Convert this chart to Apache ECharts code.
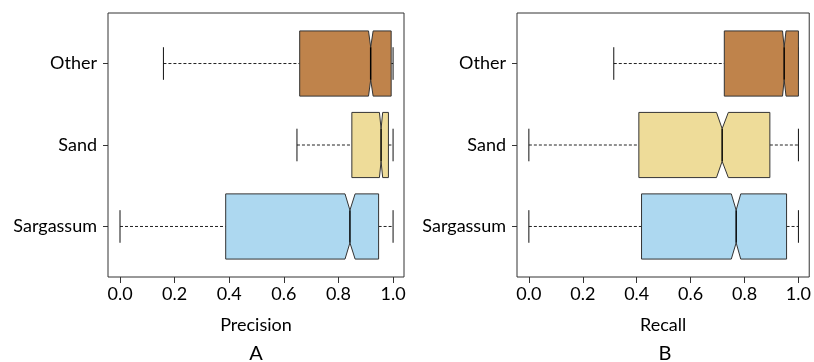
<!DOCTYPE html>
<html>
<head>
<meta charset="utf-8">
<script src="https://cdn.jsdelivr.net/npm/echarts@6/dist/echarts.min.js"></script>
<style>html,body{margin:0;padding:0;background:#fff}#c{width:814px;height:362px}</style>
</head>
<body>
<div id="c"></div>
<script>
// Categories bottom -> top
const categories = ['Sargassum', 'Sand', 'Other'];
// [lower whisker, Q1, median, Q3, upper whisker]
const precisionStats = [
  [0.000, 0.387, 0.842, 0.947, 1.000],
  [0.648, 0.849, 0.956, 0.983, 1.000],
  [0.159, 0.658, 0.918, 0.993, 1.000]
];
const precisionNotch = [[0.824, 0.861], [0.950, 0.962], [0.910, 0.927]];
const recallStats = [
  [0.000, 0.418, 0.769, 0.956, 1.000],
  [0.000, 0.408, 0.717, 0.894, 1.000],
  [0.315, 0.725, 0.947, 1.000, 1.000]
];
const recallNotch = [[0.751, 0.786], [0.696, 0.740], [0.941, 0.954]];
const boxColors = ['#ADD8F0', '#EEDC99', '#BF834B'];
const xTicks = [0, 0.2, 0.4, 0.6, 0.8, 1.0];
const yTicks = [1, 2, 3];
const panelNames = ['Precision', 'Recall'];
const panelLetters = ['A', 'B'];

const FONT = 'Lato';

function buildData(stats, notch) {
  return stats.map((s, i) => ({
    value: [i + 1, s[0], s[1], s[2], s[3], s[4], notch[i][0], notch[i][1]],
    itemStyle: { color: boxColors[i] }
  }));
}

function renderItem(params, api) {
  const y = api.value(0);
  const lo = api.value(1), q1 = api.value(2), md = api.value(3), q3 = api.value(4), hi = api.value(5);
  const nlo = api.value(6), nhi = api.value(7);
  const fill = api.visual('color');
  const c = (x, yy) => api.coord([x, yy]);
  const h = 0.4, n = 0.2, cap = 0.2;
  const stroke = '#333';
  const ln = (a, b, style) => ({ type: 'line', shape: { x1: a[0], y1: a[1], x2: b[0], y2: b[1] }, style: style });
  const dashed = { stroke: '#222', lineWidth: 1, lineDash: [3, 2] };
  const solid = { stroke: '#111', lineWidth: 1 };
  const pts = [
    c(q1, y - h), c(nlo, y - h), c(md, y - n), c(nhi, y - h), c(q3, y - h),
    c(q3, y + h), c(nhi, y + h), c(md, y + n), c(nlo, y + h), c(q1, y + h)
  ];
  return {
    type: 'group',
    children: [
      ln(c(lo, y), c(q1, y), dashed),
      ln(c(q3, y), c(hi, y), dashed),
      ln(c(lo, y - cap), c(lo, y + cap), solid),
      ln(c(hi, y - cap), c(hi, y + cap), solid),
      { type: 'polygon', shape: { points: pts }, style: { fill: fill, stroke: stroke, lineWidth: 1 } },
      ln(c(md, y - n), c(md, y + n), { stroke: '#000', lineWidth: 1.5 })
    ]
  };
}

const grids = [
  { left: 108, right: 410, top: 13, bottom: 85, show: true, borderColor: '#333', borderWidth: 1 },
  { left: 517, right: 2, top: 13, bottom: 85, show: true, borderColor: '#333', borderWidth: 1 }
];

const xAxes = panelNames.map((name, i) => ({
  type: 'value', gridIndex: i, min: -0.044, max: 1.04,
  name: name, nameLocation: 'middle', nameGap: 39,
  nameTextStyle: { fontFamily: FONT, fontSize: 18, color: '#000' },
  axisLine: { show: false, onZero: false },
  axisTick: { show: true, inside: false, length: 6, customValues: xTicks, lineStyle: { color: '#333' } },
  axisLabel: { customValues: xTicks, margin: 8, fontFamily: FONT, fontSize: 18, color: '#000', formatter: v => Number(v).toFixed(1) },
  splitLine: { show: false }
}));

const yAxes = panelNames.map((name, i) => ({
  type: 'value', gridIndex: i, min: 0.38, max: 3.62,
  axisLine: { show: false, onZero: false },
  axisTick: { show: true, length: 5, customValues: yTicks, lineStyle: { color: '#333' } },
  axisLabel: { customValues: yTicks, margin: 11, fontFamily: FONT, fontSize: 18, color: '#000', formatter: v => categories[Math.round(v) - 1] || '' },
  splitLine: { show: false }
}));

const chart = echarts.init(document.getElementById('c'), null, { renderer: 'canvas' });
chart.setOption({
  animation: false,
  backgroundColor: '#fff',
  grid: grids,
  xAxis: xAxes,
  yAxis: yAxes,
  graphic: [
    { type: 'text', x: 256, y: 354, style: { text: panelLetters[0], fontFamily: FONT, fontSize: 20, fill: '#000', textAlign: 'center', textVerticalAlign: 'middle' } },
    { type: 'text', x: 665, y: 354, style: { text: panelLetters[1], fontFamily: FONT, fontSize: 20, fill: '#000', textAlign: 'center', textVerticalAlign: 'middle' } }
  ],
  series: [
    { type: 'custom', xAxisIndex: 0, yAxisIndex: 0, renderItem: renderItem, encode: { x: [1, 2, 3, 4, 5], y: 0 }, data: buildData(precisionStats, precisionNotch), clip: false },
    { type: 'custom', xAxisIndex: 1, yAxisIndex: 1, renderItem: renderItem, encode: { x: [1, 2, 3, 4, 5], y: 0 }, data: buildData(recallStats, recallNotch), clip: false }
  ]
});
</script>
</body>
</html>
